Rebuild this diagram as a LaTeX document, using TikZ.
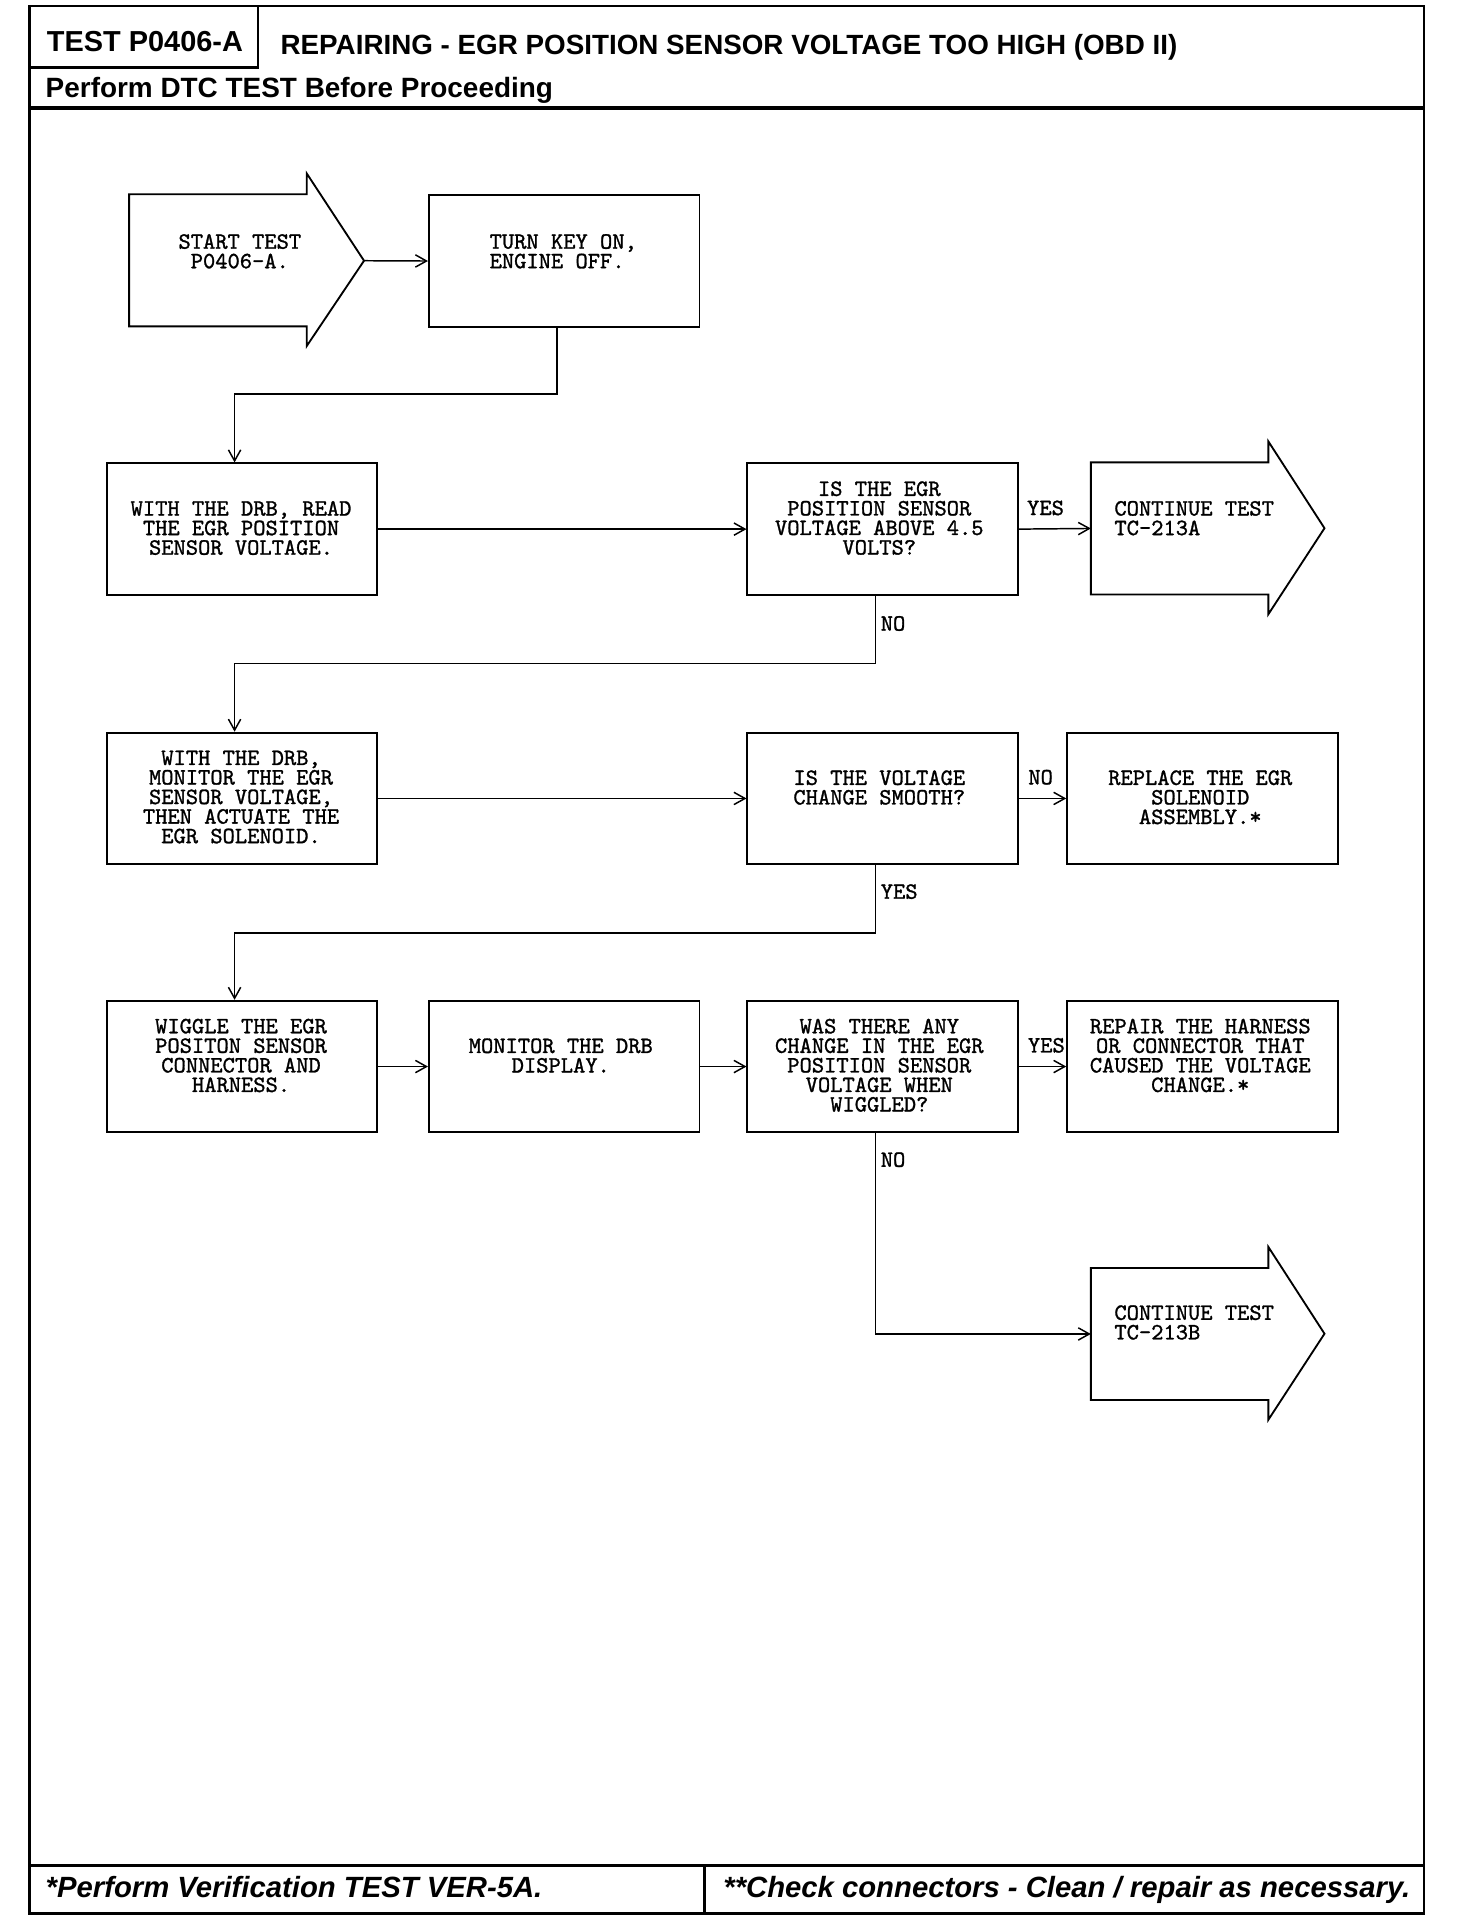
\documentclass[tikz,border=0pt]{standalone}
\usepackage{fontspec}
\setmainfont{Liberation Sans}
\newfontfamily\monofont{lmmono10-regular.otf}[FakeBold=1.2]
\usetikzlibrary{arrows.meta}
\begin{document}
\begin{tikzpicture}[x=1pt,y=-1pt,
  box/.style={draw, line width=1.5pt, minimum width=220pt, minimum height=107pt, inner sep=0pt, anchor=north west},
  abody/.style={minimum width=144pt, minimum height=107pt, inner sep=0pt, anchor=north west},
  ashape/.style={draw, line width=1.5pt, line join=miter},
  mtxt/.style={font=\monofont\fontsize{19}{15.9}\selectfont, align=center, inner sep=0pt, anchor=north},
  lbl/.style={font=\monofont\fontsize{19}{15.9}\selectfont, inner sep=0pt},
  conn/.style={line width=1.2pt, -{Straight Barb[length=9pt,width=10pt,line width=1.2pt]}},
  frame/.style={line width=2pt},
  hdr/.style={inner sep=0pt, anchor=base west}
]
\useasboundingbox (0,0) rectangle (1184,1571);

% frame and header/footer
\draw[frame] (24,5) rectangle (1158,1556);
\draw[line width=3pt] (24,88) -- (1158,88);
\draw[frame] (210,5) -- (210,55) -- (24,55);
\draw[frame] (24,1517) -- (1158,1517);
\draw[frame] (573,1517) -- (573,1556);

\node[hdr, font=\bfseries\fontsize{23.5}{28}\selectfont] (testid) at (38,42) {TEST P0406-A};
\node[hdr, font=\bfseries\fontsize{22.6}{27}\selectfont] (title) at (228,44) {REPAIRING - EGR POSITION SENSOR VOLTAGE TOO HIGH (OBD II)};
\node[hdr, font=\bfseries\fontsize{22.7}{27}\selectfont] (pre) at (37,79) {Perform DTC TEST Before Proceeding};
\node[hdr, font=\bfseries\itshape\fontsize{23.8}{28}\selectfont] (foot1) at (37,1543) {*Perform Verification TEST VER-5A.};
\node[hdr, font=\bfseries\itshape\fontsize{23.8}{28}\selectfont] (foot2) at (588,1543) {**Check connectors - Clean / repair as necessary.};

% boxes
\node[box] (turnkey) at (348,158) {};
\node[box] (read) at (86,376) {};
\node[box] (q1) at (607,376) {};
\node[box] (monitor) at (86,595) {};
\node[box] (q2) at (607,595) {};
\node[box] (replace) at (867,595) {};
\node[box] (wiggle) at (86,813) {};
\node[box] (mondrb) at (348,813) {};
\node[box] (q3) at (607,813) {};
\node[box] (repair) at (867,813) {};

% arrow shapes
\node[abody] (start) at (105,158) {};
\node[abody] (cont1) at (887,376) {};
\node[abody] (cont2) at (887,1031) {};
\coordinate (starttip) at (296,212);
\coordinate (cont1tip) at (1077,429.5);
\coordinate (cont2tip) at (1077,1084.5);
\foreach \b in {start,cont1,cont2}{
  \draw[ashape] (\b.north west) -- (\b.north east) -- ([yshift=17pt]\b.north east) -- (\b tip)
    -- ([yshift=-16pt]\b.south east) -- (\b.south east) -- (\b.south west) -- cycle;
}

% texts
\node[mtxt] (startT) at (195,190.2) {START TEST\\P0406-A.};
\node[mtxt] (turnkeyT) at (458,190.2) {TURN KEY ON,\\ENGINE OFF.\hphantom{X}};
\node[mtxt] (readT) at (196,407.2) {WITH THE DRB, READ\\THE EGR POSITION\\SENSOR VOLTAGE.};
\node[mtxt] (q1T) at (715,391.2) {IS THE EGR\\POSITION SENSOR\\VOLTAGE ABOVE 4.5\\VOLTS?};
\node[mtxt, anchor=north west, align=left] (cont1T) at (906,407.2) {CONTINUE TEST\\TC-213A};
\node[mtxt] (monitorT) at (196,610.2) {WITH THE DRB,\\MONITOR THE EGR\\SENSOR VOLTAGE,\\THEN ACTUATE THE\\EGR SOLENOID.};
\node[mtxt] (q2T) at (715,626.2) {IS THE VOLTAGE\\CHANGE SMOOTH?};
\node[mtxt] (replaceT) at (976,626.2) {REPLACE THE EGR\\SOLENOID\\ASSEMBLY.*};
\node[mtxt] (wiggleT) at (196,828.2) {WIGGLE THE EGR\\POSITON SENSOR\\CONNECTOR AND\\HARNESS.};
\node[mtxt] (mondrbT) at (456,844.2) {MONITOR THE DRB\\DISPLAY.};
\node[mtxt] (q3T) at (715,828.2) {WAS THERE ANY\\CHANGE IN THE EGR\\POSITION SENSOR\\VOLTAGE WHEN\\WIGGLED?};
\node[mtxt] (repairT) at (976,828.2) {REPAIR THE HARNESS\\OR CONNECTOR THAT\\CAUSED THE VOLTAGE\\CHANGE.*};
\node[mtxt, anchor=north west, align=left] (cont2T) at (906,1061.2) {CONTINUE TEST\\TC-213B};

% labels
\node[lbl, anchor=west] (yes1) at (835,413) {YES};
\node[lbl, anchor=west] (no1) at (716,507) {NO};
\node[lbl, anchor=west] (no2) at (836,632) {NO};
\node[lbl, anchor=west] (yes2) at (716,725) {YES};
\node[lbl, anchor=east] (yes3) at (866,850) {YES};
\node[lbl, anchor=west] (no3) at (716,943) {NO};

% connectors
\draw[conn] (starttip) -- (turnkey.west);
\draw[conn] ([xshift=-6pt]turnkey.south) -- ++(0,54) -| ([xshift=-6pt]read.north);
\draw[conn] (read.east) -- (q1.west);
\draw[conn] (q1.east) -- (cont1.west);
\draw[conn] ([xshift=-6pt]q1.south) -- ++(0,55) -| ([xshift=-6pt]monitor.north);
\draw[conn] (monitor.east) -- (q2.west);
\draw[conn] (q2.east) -- (replace.west);
\draw[conn] ([xshift=-6pt]q2.south) -- ++(0,55) -| ([xshift=-6pt]wiggle.north);
\draw[conn] (wiggle.east) -- (mondrb.west);
\draw[conn] (mondrb.east) -- (q3.west);
\draw[conn] (q3.east) -- (repair.west);
\draw[conn] ([xshift=-6pt]q3.south) |- (cont2.west);
\end{tikzpicture}
\end{document}
